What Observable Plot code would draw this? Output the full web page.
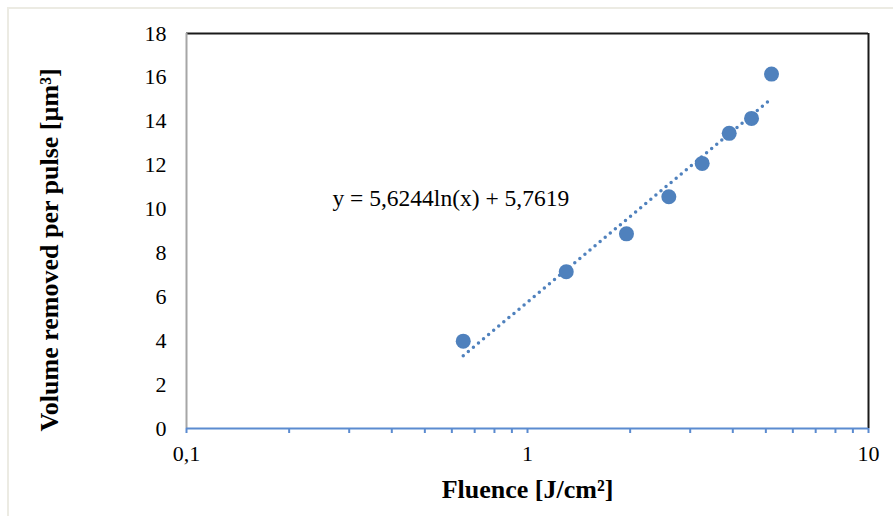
<!DOCTYPE html>
<html>
<head>
<meta charset="utf-8">
<script src="https://cdn.jsdelivr.net/npm/d3@7"></script>
<script src="https://cdn.jsdelivr.net/npm/@observablehq/plot@0.6"></script>
<style>
  html, body { margin: 0; padding: 0; background: #fff; }
  #wrap { position: relative; width: 893px; height: 516px; overflow: hidden; }
  #frame { position: absolute; left: 7px; top: 7px; width: 900px; height: 520px;
           border-left: 2px solid #ecebe3; border-top: 2px solid #ecebe3; box-sizing: border-box; }
  #chart { position: absolute; left: 0; top: 0; }
</style>
</head>
<body>
<div id="wrap"><div id="frame"></div><div id="chart"></div></div>
<script>
// Measured data (Fluence in J/cm², volume in µm³)
const fluence = [0.648, 1.299, 1.951, 2.597, 3.253, 3.904, 4.539, 5.195];
const volume  = [3.98, 7.14, 8.87, 10.56, 12.08, 13.45, 14.13, 16.15];

// Logarithmic trendline end points (as drawn)
const trendX = [0.648, 5.195];
const trendY = [3.32, 15.03];
const equation = "y = 5,6244ln(x) + 5,7619";

const xTickValues = [0.1, 1, 10];
const xMinorTicks = [0.2,0.3,0.4,0.5,0.6,0.7,0.8,0.9,2,3,4,5,6,7,8,9];
const yTickValues = [0, 2, 4, 6, 8, 10, 12, 14, 16, 18];

const xTitle = "Fluence [J/cm²]";
const yTitle = "Volume removed per pulse [µm³]";

const points = fluence.map((f, i) => ({x: f, y: volume[i]}));
const trend = trendX.map((t, i) => ({x: t, y: trendY[i]}));

const blue = "#4f81bd";
const axisBlue = "#5b8bd0";
const font = "Liberation Serif, Times New Roman, serif";
const fmt = d => String(d).replace(".", ",");

const chart = Plot.plot({
  width: 893,
  height: 516,
  marginLeft: 186,
  marginRight: 25,
  marginTop: 33,
  marginBottom: 88,
  style: { fontFamily: font, fontSize: "22px", color: "#000", background: "transparent" },
  x: { type: "log", domain: [0.1, 10] },
  y: { domain: [0, 18] },
  marks: [
    // frame
    Plot.ruleY([18], { stroke: "#1a1a1a", strokeWidth: 2 }),
    Plot.ruleX([10], { stroke: "#1a1a1a", strokeWidth: 2 }),
    Plot.ruleX([0.1], { stroke: "#a6a6a6", strokeWidth: 2 }),
    // axes
    Plot.axisY({ ticks: yTickValues, tickSize: 0, tickPadding: 20, fontSize: 22, label: null }),
    Plot.axisX({ ticks: xTickValues, tickFormat: fmt, tickSize: 0, tickPadding: 17, fontSize: 22, label: null }),
    Plot.ruleX(xTickValues.concat(xMinorTicks), { y1: 0, y2: 0, stroke: axisBlue, strokeWidth: 2, insetBottom: -5 }),
    Plot.ruleY([0], { stroke: axisBlue, strokeWidth: 2 }),
    // trendline
    Plot.line(trend, { x: "x", y: "y", stroke: blue, strokeWidth: 3.5,
      strokeDasharray: "0 6.6", strokeLinecap: "round" }),
    // points
    Plot.dot(points, { x: "x", y: "y", r: 7.5, fill: blue, stroke: "none" }),
    // equation
    Plot.text([equation], { x: 0.268, y: 10.5, text: d => d, textAnchor: "start",
      fontSize: 23.5, fill: "#000", fontFamily: font }),
    // x title
    Plot.text([xTitle], { frameAnchor: "bottom", dy: 69, text: d => d, fontSize: 26,
      fontWeight: "bold", fill: "#000", fontFamily: font })
  ]
});

// y title (rotated), placed to the left of the tick labels
d3.select(chart).append("text")
  .attr("transform", "translate(49,250) rotate(-90)")
  .attr("text-anchor", "middle")
  .attr("dominant-baseline", "central")
  .attr("font-family", font)
  .attr("font-size", 26)
  .attr("font-weight", "bold")
  .attr("fill", "#000")
  .text(yTitle);

document.getElementById("chart").appendChild(chart);
</script>
</body>
</html>
